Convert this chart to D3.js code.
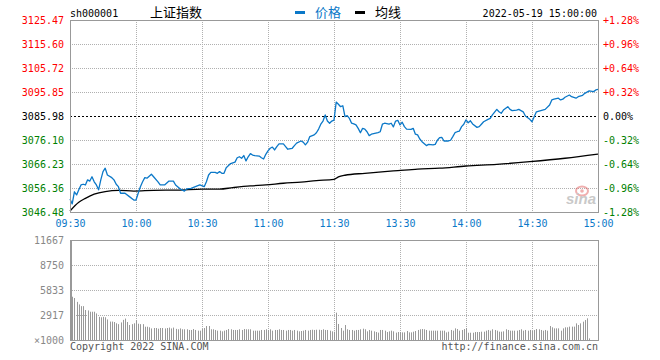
<!DOCTYPE html>
<html>
<head>
<meta charset="utf-8">
<title>上证指数 分时</title>
<style>
body { margin: 0; background: #fff; }
svg text { font-family: "DejaVu Sans Mono", monospace; font-size: 10px; }
.grid line { stroke: #b0b0b0; stroke-dasharray: 1,1; }
.line { fill: none; stroke-width: 1.3px; stroke-linejoin: round; }
</style>
</head>
<body>
<script src="https://cdn.jsdelivr.net/npm/d3@7"></script>
<script>
// axis labels
var timeTicks = [0, 30, 60, 90, 120, 150, 180, 210, 240];
var timeLabels = ["09:30", "10:00", "10:30", "11:00", "11:30", "13:30", "14:00", "14:30", "15:00"];
var priceTicks = [3046.48, 3056.36, 3066.23, 3076.10, 3085.98, 3095.85, 3105.72, 3115.60, 3125.47];
var pctLabels = ["-1.28%", "-0.96%", "-0.64%", "-0.32%", "0.00%", "+0.32%", "+0.64%", "+0.96%", "+1.28%"];
var volTicks = [0, 2917, 5833, 8750, 11667];
var preClose = 3085.98;

// price line (minute index from 09:30, 241 minutes in the day)
var priceMinutes = [0,1,2,3,4,5,6,7,8,9,10,11,12,13,14,15,16,17,19,20,21,22,23,25,27,29,30,31,32,33,34,35,37,38,40,41,43,45,47,48,50,52,53,55,57,59,61,62,63,64,66,67,68,69,70,71,73,75,76,77,78,79,80,81,82,83,84,86,87,88,89,90,91,92,93,94,95,97,98,99,101,102,103,105,106,107,108,109,111,112,113,114,115,116,117,118,119,120,
  121,122,123,124,125,126,127,128,129,130,131,132,133,134,135,136,137,139,140,141,142,143,145,146,147,148,149,150,151,152,153,155,156,157,158,159,160,162,163,165,166,167,168,169,170,172,173,174,175,176,177,178,179,180,181,182,183,185,186,187,188,190,191,192,194,195,196,197,199,200,201,203,204,206,207,209,210,211,212,214,216,218,219,220,222,223,224,225,227,228,230,231,233,234,236,238,239,240];
var priceValues = [3051.8,3049.8,3054.8,3053.5,3055.6,3057.6,3057.9,3057.6,3059.7,3059.2,3061.0,3058.9,3057.6,3055.6,3059.7,3063.1,3064.5,3061.7,3060.6,3059.7,3057.9,3056.9,3054.2,3054.2,3052.8,3051.4,3051.4,3054.2,3056.9,3058.9,3060.6,3060.4,3062.0,3061.0,3058.9,3057.6,3057.6,3059.2,3059.2,3057.6,3056.0,3055.1,3056.0,3056.2,3056.9,3057.6,3056.9,3058.9,3061.7,3062.8,3062.8,3062.4,3063.1,3062.4,3062.4,3064.7,3066.4,3067.0,3068.8,3069.2,3068.6,3069.7,3067.5,3069.2,3070.5,3069.9,3069.7,3069.5,3068.8,3068.3,3070.2,3071.6,3072.7,3073.2,3072.0,3073.4,3074.5,3074.5,3073.4,3072.3,3072.7,3073.8,3074.8,3075.7,3075.2,3074.1,3075.2,3077.5,3078.2,3079.1,3080.6,3082.6,3083.9,3086.4,3083.9,3083.0,3083.9,3084.3,
  3091.7,3090.8,3089.8,3090.2,3085.7,3086.1,3085.0,3083.0,3082.7,3082.3,3080.9,3079.1,3080.9,3080.6,3079.5,3077.9,3078.5,3078.9,3079.1,3079.5,3082.6,3083.0,3082.6,3083.0,3081.5,3083.9,3084.2,3082.3,3083.4,3081.6,3080.6,3080.5,3080.9,3078.5,3078.2,3076.5,3075.4,3073.8,3074.3,3074.1,3074.3,3076.0,3077.1,3077.2,3075.7,3075.7,3076.0,3077.5,3079.1,3079.5,3079.8,3081.6,3082.6,3084.4,3083.2,3084.0,3082.7,3081.3,3081.6,3082.6,3083.6,3084.6,3085.0,3086.4,3088.7,3087.7,3087.1,3088.4,3089.8,3088.7,3088.2,3088.4,3088.7,3087.7,3086.0,3084.6,3083.6,3085.7,3087.7,3088.2,3088.7,3090.5,3092.6,3092.9,3093.3,3092.6,3092.9,3093.7,3094.6,3093.9,3093.3,3093.9,3094.5,3095.3,3096.3,3096.0,3096.7,3096.9];

// average price line
var avgMinutes = [0,4,7,11,16,22,29,38,49,60,68,74,82,89,97,105,112,120,122,125,134,143,149,158,168,180,194,209,225,240];
var avgValues = [3046.9,3050.5,3052.1,3053.8,3054.9,3055.4,3055.1,3055.4,3055.5,3055.9,3055.9,3056.5,3057.2,3057.6,3058.3,3058.8,3059.4,3059.9,3060.9,3061.6,3062.4,3063.1,3063.5,3064.1,3064.5,3065.4,3066.1,3067.2,3068.6,3070.3];

// volume per minute, x1000
var volumes = [
  5750,5050,4900,4450,4150,3950,3950,3500,3450,3300,
  3300,3300,3100,2700,2650,2700,2650,2400,2150,2150,
  2100,1950,1850,2050,2350,2500,2100,1750,1850,1950,
  2300,1900,1850,1850,1550,1550,1480,1350,1400,1400,
  1320,1400,1400,1350,1400,1450,1350,1450,1300,1250,
  1350,1250,1250,1250,1170,1170,1280,1170,1090,1090,
  1280,1400,1630,1630,1250,1250,1170,1090,1090,1010,
  1090,1170,1280,1250,1170,1170,1170,1250,1170,1280,
  1250,1250,1250,1090,1090,1090,1090,1170,1170,1250,
  1170,1250,1090,1170,1170,1250,1170,1170,1090,1170,
  1170,1090,1170,1090,1010,1050,1090,1170,1090,1170,
  1200,1170,1200,1200,1170,1250,1170,1170,1090,1010,
  970,
  3190,1870,1400,1090,1750,1250,1170,1170,1090,1170,
  1170,1250,1320,1250,1010,1170,1090,1010,930,860,
  1170,1170,1090,930,1010,1090,1010,860,930,930,
  890,890,1050,890,890,970,1050,1170,1250,1280,
  1250,1170,1090,1090,1090,1090,1090,1090,1090,1090,
  890,970,1170,1090,1360,1280,1090,1170,1280,1400,
  850,850,850,930,930,930,970,970,1090,1170,
  1090,1250,1170,1090,970,970,1010,1250,1170,1090,
  1090,1090,1090,1170,1250,1090,1170,1090,1170,1050,
  1170,1280,1250,1170,1090,1170,1090,1630,1480,1360,
  1360,1360,1090,1360,1480,1480,1560,1560,1560,1940,
  1750,1940,2140,2330,2530,190,0,0,0,0
];

var W = 660, H = 360;
var left = 70, right = 598;
var pTop = 20, pBottom = 212;
var vTop = 240, vBottom = 340;
var blue = "#0b78c8", red = "#ff0000", green = "#008000";

var svg = d3.select("body").append("svg")
    .attr("width", W)
    .attr("height", H);

var x = d3.scaleLinear().domain([0, 240]).range([left, right]);
var y = d3.scaleLinear().domain([3046.48, 3125.47]).range([pBottom, pTop]);
var yv = d3.scaleLinear().domain([0, 11667]).range([vBottom, vTop]);

function tickColor(d) { return d > preClose + 0.001 ? red : (d < preClose - 0.001 ? green : "#000"); }

// ---- price panel grid
var grid = svg.append("g").attr("class", "grid");
grid.selectAll(".hp").data(priceTicks.filter(function(d) { return d !== preClose; }).slice(1, -1))
  .enter().append("line")
    .attr("x1", left).attr("x2", right)
    .attr("y1", function(d) { return Math.round(y(d)) + 0.5; })
    .attr("y2", function(d) { return Math.round(y(d)) + 0.5; });
grid.selectAll(".vp").data(timeTicks.slice(1, -1))
  .enter().append("line")
    .attr("x1", function(d) { return Math.round(x(d)) + 0.5; })
    .attr("x2", function(d) { return Math.round(x(d)) + 0.5; })
    .attr("y1", pTop).attr("y2", pBottom);
// volume panel grid
grid.selectAll(".hv").data(volTicks.slice(1, -1))
  .enter().append("line")
    .attr("x1", left).attr("x2", right)
    .attr("y1", function(d) { return Math.round(yv(d)) + 0.5; })
    .attr("y2", function(d) { return Math.round(yv(d)) + 0.5; });
grid.selectAll(".vv").data(timeTicks.slice(1, -1))
  .enter().append("line")
    .attr("x1", function(d) { return Math.round(x(d)) + 0.5; })
    .attr("x2", function(d) { return Math.round(x(d)) + 0.5; })
    .attr("y1", vTop).attr("y2", vBottom);

// previous close dashed line
svg.append("line")
    .attr("x1", left).attr("x2", right)
    .attr("y1", Math.round(y(preClose)) + 0.5).attr("y2", Math.round(y(preClose)) + 0.5)
    .attr("stroke", "#000").attr("stroke-dasharray", "2,2");

// ---- volume bars
svg.append("g").selectAll("rect").data(volumes)
  .enter().append("rect")
    .attr("x", function(d, i) { return Math.round(x(i)); })
    .attr("width", 1)
    .attr("y", function(d) { return yv(d); })
    .attr("height", function(d) { return vBottom - yv(d); })
    .attr("fill", "#999");

// ---- sina watermark
var wm = svg.append("g").attr("opacity", 0.45);
wm.append("ellipse").attr("cx", 582).attr("cy", 191).attr("rx", 6).attr("ry", 4.5)
    .attr("fill", "none").attr("stroke", "#e05050").attr("stroke-width", 2);
wm.append("circle").attr("cx", 582).attr("cy", 191).attr("r", 1.8).attr("fill", "#e05050");
wm.append("text").attr("x", 566).attr("y", 204)
    .style("font-family", "Liberation Sans, sans-serif").style("font-size", "15px")
    .style("font-weight", "bold").style("font-style", "italic")
    .attr("fill", "#888").text("sina");

// ---- lines
var line = d3.line()
    .x(function(d) { return x(d.m); })
    .y(function(d) { return y(d.p); });

var avgData = avgMinutes.map(function(m, i) { return {m: m, p: avgValues[i]}; });
var priceData = priceMinutes.map(function(m, i) { return {m: m, p: priceValues[i]}; });

svg.append("path").datum(avgData).attr("class", "line")
    .attr("stroke", "#000").attr("d", line.curve(d3.curveMonotoneX));
svg.append("path").datum(priceData).attr("class", "line")
    .attr("stroke", blue).attr("d", line.curve(d3.curveLinear));

// ---- borders
svg.append("rect").attr("x", left + 0.5).attr("y", pTop + 0.5)
    .attr("width", right - left).attr("height", pBottom - pTop)
    .attr("fill", "none").attr("stroke", "#999");
svg.append("rect").attr("x", left + 0.5).attr("y", vTop + 0.5)
    .attr("width", right - left).attr("height", vBottom - vTop)
    .attr("fill", "none").attr("stroke", "#999");
svg.append("line").attr("x1", left + 1.5).attr("x2", left + 1.5)
    .attr("y1", vTop).attr("y2", vBottom + 1).attr("stroke", "#999");

// ---- axes
var yAxisL = svg.append("g")
    .attr("transform", "translate(" + left + ",0)")
    .call(d3.axisLeft(y).tickValues(priceTicks).tickSize(0).tickPadding(6)
        .tickFormat(d3.format(".2f")));
yAxisL.selectAll("text").attr("fill", tickColor);

var yAxisR = svg.append("g")
    .attr("transform", "translate(" + right + ",0)")
    .call(d3.axisRight(y).tickValues(priceTicks).tickSize(0).tickPadding(5)
        .tickFormat(function(d, i) { return pctLabels[i]; }));
yAxisR.selectAll("text").attr("fill", tickColor);

var xAxis = svg.append("g")
    .attr("transform", "translate(0," + pBottom + ")")
    .call(d3.axisBottom(x).tickValues(timeTicks).tickSize(0).tickPadding(8)
        .tickFormat(function(d, i) { return timeLabels[i]; }));
xAxis.selectAll("text").attr("fill", blue);

var vAxis = svg.append("g")
    .attr("transform", "translate(" + left + ",0)")
    .call(d3.axisLeft(yv).tickValues(volTicks).tickSize(0).tickPadding(6)
        .tickFormat(function(d) { return d === 0 ? "×1000" : d; }));
vAxis.selectAll("text").attr("fill", "#888");

[yAxisL, yAxisR, xAxis, vAxis].forEach(function(g) {
  g.select(".domain").remove();
  g.attr("font-family", null).attr("font-size", null);
});

// ---- header
svg.append("text").attr("x", 70).attr("y", 17).attr("fill", "#000").text("sh000001");
svg.append("text").attr("x", 150).attr("y", 17)
    .style("font-family", "Noto Sans CJK SC, sans-serif").style("font-size", "13px")
    .attr("fill", "#000").text("上证指数");

svg.append("rect").attr("x", 295).attr("y", 11).attr("width", 10).attr("height", 3).attr("fill", blue);
svg.append("text").attr("x", 315).attr("y", 17)
    .style("font-family", "Noto Sans CJK SC, sans-serif").style("font-size", "13px")
    .attr("fill", blue).text("价格");
svg.append("rect").attr("x", 355).attr("y", 11).attr("width", 10).attr("height", 3).attr("fill", "#000");
svg.append("text").attr("x", 375).attr("y", 17)
    .style("font-family", "Noto Sans CJK SC, sans-serif").style("font-size", "13px")
    .attr("fill", "#000").text("均线");

svg.append("text").attr("x", 597).attr("y", 17).attr("text-anchor", "end")
    .attr("fill", "#000").text("2022-05-19 15:00:00");

// ---- footer
svg.append("text").attr("x", 70).attr("y", 350).attr("fill", "#555").text("Copyright 2022 SINA.COM");
svg.append("text").attr("x", 598).attr("y", 350).attr("text-anchor", "end")
    .attr("fill", "#555").text("http://finance.sina.com.cn");
</script>
</body>
</html>
